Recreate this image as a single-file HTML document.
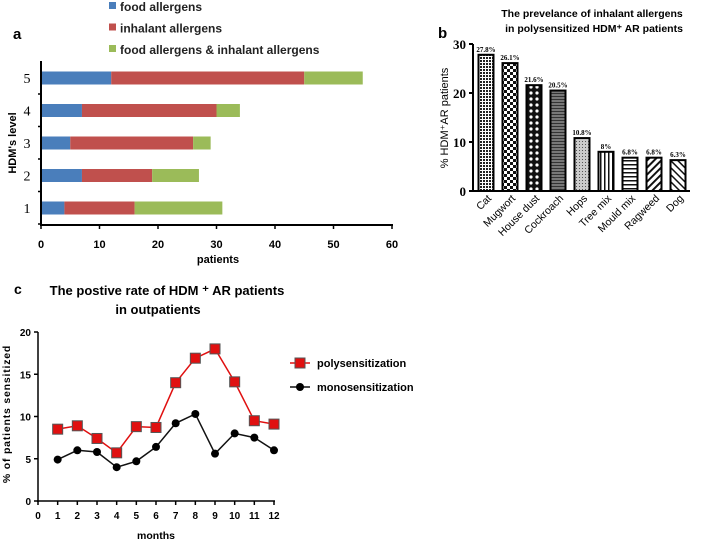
<!DOCTYPE html>
<html><head><meta charset="utf-8"><style>
body{margin:0;background:#fff;width:706px;height:539px;overflow:hidden}
svg{display:block;font-family:"Liberation Sans",sans-serif}
</style></head><body>
<svg id="s" width="706" height="539" xmlns="http://www.w3.org/2000/svg">
<defs>
<pattern id="p0" width="3" height="3" patternUnits="userSpaceOnUse"><rect width="3" height="3" fill="#fff"/><rect width="2" height="2" fill="#222"/></pattern>
<pattern id="p1" width="6" height="6" patternUnits="userSpaceOnUse"><rect width="6" height="6" fill="#fff"/><rect width="3" height="3" fill="#111"/><rect x="3" y="3" width="3" height="3" fill="#111"/></pattern>
<pattern id="p2" width="6" height="6" patternUnits="userSpaceOnUse"><rect width="6" height="6" fill="#111"/><circle cx="3" cy="3" r="1.6" fill="#fff"/></pattern>
<pattern id="p3" width="4" height="3" patternUnits="userSpaceOnUse"><rect width="4" height="3" fill="#777"/><rect width="4" height="1" fill="#333"/></pattern>
<pattern id="p4" width="3" height="3" patternUnits="userSpaceOnUse"><rect width="3" height="3" fill="#ccc"/><rect width="1" height="1" fill="#555"/></pattern>
<pattern id="p5" width="4" height="4" patternUnits="userSpaceOnUse"><rect width="4" height="4" fill="#fff"/><rect width="1.5" height="4" fill="#111"/></pattern>
<pattern id="p6" width="4" height="4" patternUnits="userSpaceOnUse"><rect width="4" height="4" fill="#fff"/><rect width="4" height="1.5" fill="#111"/></pattern>
<pattern id="p7" width="5" height="5" patternUnits="userSpaceOnUse" patternTransform="rotate(45)"><rect width="5" height="5" fill="#fff"/><rect width="2" height="5" fill="#111"/></pattern>
<pattern id="p8" width="5" height="5" patternUnits="userSpaceOnUse" patternTransform="rotate(-45)"><rect width="5" height="5" fill="#fff"/><rect width="1.5" height="5" fill="#111"/></pattern>
</defs>
<g id="ga"></g><g id="gb"></g><g id="gc"></g>
</svg>
<script>
// ---- panel a data
const aLevels=["1","2","3","4","5"];
const aFood=[4,7,5,7,12];
const aInhal=[12,12,21,23,33];
const aBoth=[15,8,3,4,10];
const aTicks=[0,10,20,30,40,50,60];
// ---- panel b data
const bCats=["Cat","Mugwort","House dust","Cockroach","Hops","Tree mix","Mould mix","Ragweed","Dog"];
const bVals=[27.8,26.1,21.6,20.5,10.8,8,6.8,6.8,6.3];
const bLabels=["27.8%","26.1%","21.6%","20.5%","10.8%","8%","6.8%","6.8%","6.3%"];
const bTicks=[0,10,20,30];
// ---- panel c data
const cMonths=[1,2,3,4,5,6,7,8,9,10,11,12];
const cPoly=[8.5,8.9,7.4,5.7,8.8,8.7,14,16.9,18,14.1,9.5,9.1];
const cMono=[4.9,6,5.8,4,4.7,6.4,9.2,10.3,5.6,8,7.5,6];
const cYTicks=[0,5,10,15,20];
const cXTicks=[0,1,2,3,4,5,6,7,8,9,10,11,12];

const NS="http://www.w3.org/2000/svg";
function mk(p,t,a,txt){const e=document.createElementNS(NS,t);for(const k in a)e.setAttribute(k,a[k]);if(txt!=null)e.textContent=txt;p.appendChild(e);return e;}

// ===== Panel a
const ga=document.getElementById('ga');
const ax=v=>41+v*351/60;
const ay=i=>208-i*32.5;
let e;
e=mk(ga,'text',{x:13,y:39,'font-size':15,'font-weight':'bold'},'a');


const legA=[["#4a7ebb","food allergens"],["#c0504d","inhalant allergens"],["#9bbb59","food allergens & inhalant allergens"]];
legA.forEach((l,i)=>{
  e=mk(ga,'rect',{x:109,y:2+i*21.5,width:7,height:7,fill:l[0]});
  
  
  e=mk(ga,'text',{x:120,y:11+i*21.5,'font-size':12,'font-weight':'bold',fill:'#222'},l[1]);
  
  
});
aLevels.forEach((lv,i)=>{
  const cy=ay(i);
  const segs=[[0,aFood[i],"#4a7ebb"],[aFood[i],aInhal[i],"#c0504d"],[aFood[i]+aInhal[i],aBoth[i],"#9bbb59"]];
  segs.forEach(s=>{
    e=mk(ga,'rect',{x:ax(s[0]),y:cy-6.5,width:ax(s[0]+s[1])-ax(s[0]),height:13,fill:s[2]});
    
    
  });
  e=mk(ga,'text',{x:27,y:cy+5,'font-size':14,'font-family':'Liberation Serif','text-anchor':'middle'},lv);
  
  
  mk(ga,'line',{x1:38,x2:41,y1:cy+16,y2:cy+16,stroke:'#000','stroke-width':1.5});
});
mk(ga,'line',{x1:41,x2:41,y1:61,y2:226,stroke:'#000','stroke-width':2});
mk(ga,'line',{x1:40,x2:393,y1:225,y2:225,stroke:'#000','stroke-width':2});
aTicks.forEach(t=>{
  mk(ga,'line',{x1:ax(t),x2:ax(t),y1:225,y2:229,stroke:'#000','stroke-width':1.5});
  e=mk(ga,'text',{x:ax(t),y:248,'font-size':11,'font-weight':'bold','text-anchor':'middle'},t);
  
  
});
e=mk(ga,'text',{x:218,y:263,'font-size':11,'font-weight':'bold','text-anchor':'middle'},'patients');


e=mk(ga,'text',{x:0,y:0,'font-size':11,'font-weight':'bold','text-anchor':'middle',transform:'translate(16,143) rotate(-90)'},"HDM's level");



// ===== Panel b
const gb=document.getElementById('gb');
const by=v=>191-v*147/30;
const bx=i=>486+i*24;
e=mk(gb,'text',{x:438,y:38,'font-size':15,'font-weight':'bold'},'b');


e=mk(gb,'text',{x:592,y:17,'font-size':10.5,'font-weight':'bold','text-anchor':'middle'},'The prevelance of inhalant allergens');


e=mk(gb,'text',{x:594,y:32,'font-size':10.5,'font-weight':'bold','text-anchor':'middle'},'in polysensitized HDM⁺ AR patients');


bCats.forEach((c,i)=>{
  const x=bx(i);
  e=mk(gb,'rect',{x:x-7.5,y:by(bVals[i]),width:15,height:by(0)-by(bVals[i]),fill:'url(#p'+i+')',stroke:'#000','stroke-width':2});
  
  
  e=mk(gb,'text',{x:x,y:by(bVals[i])-3,'font-size':7,'font-weight':'bold','font-family':'Liberation Serif','text-anchor':'middle'},bLabels[i]);
  
  
  e=mk(gb,'text',{x:0,y:0,'font-size':10.5,'text-anchor':'end',transform:`translate(${x+6},${199}) rotate(-45)`},c);
  
  
});
mk(gb,'line',{x1:473,x2:473,y1:44,y2:192,stroke:'#000','stroke-width':2});
mk(gb,'line',{x1:472,x2:690,y1:191,y2:191,stroke:'#000','stroke-width':2});
bTicks.forEach(t=>{
  mk(gb,'line',{x1:469,x2:473,y1:by(t),y2:by(t),stroke:'#000','stroke-width':2});
  e=mk(gb,'text',{x:466,y:by(t)+5,'font-size':13,'font-weight':'bold','font-family':'Liberation Serif','text-anchor':'end'},t);
  
  
});
e=mk(gb,'text',{x:0,y:0,'font-size':11,'text-anchor':'middle',transform:'translate(448,118) rotate(-90)'},'% HDM⁺AR patients');



// ===== Panel c
const gc=document.getElementById('gc');
const cx=v=>38+v*236/12;
const cy=v=>501-v*169/20;
e=mk(gc,'text',{x:14,y:294,'font-size':14,'font-weight':'bold'},'c');


e=mk(gc,'text',{x:167,y:295,'font-size':13,'font-weight':'bold','text-anchor':'middle'},'The postive rate of HDM ⁺ AR  patients');


e=mk(gc,'text',{x:158,y:314,'font-size':13,'font-weight':'bold','text-anchor':'middle'},'in outpatients');


mk(gc,'line',{x1:38,x2:38,y1:332,y2:502,stroke:'#000','stroke-width':1.5});
mk(gc,'line',{x1:37,x2:275,y1:501,y2:501,stroke:'#000','stroke-width':1.5});
cYTicks.forEach(t=>{
  mk(gc,'line',{x1:34,x2:38,y1:cy(t),y2:cy(t),stroke:'#000','stroke-width':1.5});
  e=mk(gc,'text',{x:31,y:cy(t)+4,'font-size':10,'font-weight':'bold','text-anchor':'end'},t);
  
  
});
cXTicks.forEach(t=>{
  mk(gc,'line',{x1:cx(t),x2:cx(t),y1:501,y2:505,stroke:'#000','stroke-width':1.5});
  e=mk(gc,'text',{x:cx(t),y:519,'font-size':10,'font-weight':'bold','text-anchor':'middle'},t);
  
  
});
e=mk(gc,'text',{x:156,y:539,'font-size':10.5,'font-weight':'bold','text-anchor':'middle'},'months');


e=mk(gc,'text',{x:0,y:0,'font-size':10.5,'font-weight':'bold','text-anchor':'middle','letter-spacing':'0.8',transform:'translate(10,414) rotate(-90)'},'% of patients sensitized');


e=mk(gc,'polyline',{points:cMonths.map((m,i)=>cx(m)+','+cy(cMono[i])).join(' '),fill:'none',stroke:'#111','stroke-width':1.5});


e=mk(gc,'polyline',{points:cMonths.map((m,i)=>cx(m)+','+cy(cPoly[i])).join(' '),fill:'none',stroke:'#e01010','stroke-width':1.5});


cMonths.forEach((m,i)=>{
  e=mk(gc,'circle',{cx:cx(m),cy:cy(cMono[i]),r:4,fill:'#000'});
  
  
  e=mk(gc,'rect',{x:cx(m)-5,y:cy(cPoly[i])-5,width:10,height:10,fill:'#e01010',stroke:'#555','stroke-width':1});
  
  
});
mk(gc,'line',{x1:290,x2:310,y1:363,y2:363,stroke:'#e01010','stroke-width':1.5});
mk(gc,'rect',{x:295,y:358,width:10,height:10,fill:'#e01010',stroke:'#555'});
e=mk(gc,'text',{x:317,y:367,'font-size':11,'font-weight':'bold'},'polysensitization');


mk(gc,'line',{x1:290,x2:310,y1:387,y2:387,stroke:'#111','stroke-width':1.5});
mk(gc,'circle',{cx:300,cy:387,r:4,fill:'#000'});
e=mk(gc,'text',{x:317,y:391,'font-size':11,'font-weight':'bold'},'monosensitization');


</script>
</body></html>
